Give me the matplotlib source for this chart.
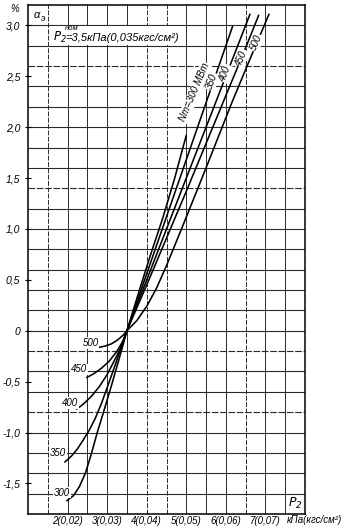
import matplotlib
matplotlib.use('Agg')
import matplotlib.pyplot as plt
from matplotlib.patches import Rectangle
import numpy as np

# ---------------- data ----------------
p_300 = [1.98, 2.15, 2.30, 2.45, 2.60, 2.75, 2.90, 3.10, 3.30, 3.50, 3.80, 4.10, 4.40, 4.70, 5.00]
a_300 = [-1.67, -1.62, -1.53, -1.40, -1.21, -1.00, -0.81, -0.55, -0.28, 0.0, 0.38, 0.75, 1.10, 1.49, 1.92]

p_350 = [1.93, 2.10, 2.25, 2.40, 2.55, 2.70, 2.85, 3.00, 3.20, 3.50, 4.00, 4.50, 5.00, 5.50, 6.17]
a_350 = [-1.29, -1.23, -1.16, -1.07, -0.975, -0.86, -0.72, -0.56, -0.34, 0.0, 0.56, 1.12, 1.68, 2.24, 2.99]

p_400 = [2.23, 2.40, 2.60, 2.80, 3.00, 3.20, 3.35, 3.50, 4.00, 4.50, 5.00, 5.50, 6.00, 6.61]
a_400 = [-0.77, -0.72, -0.645, -0.55, -0.43, -0.28, -0.16, 0.0, 0.50, 1.00, 1.50, 2.00, 2.50, 3.11]

p_450 = [2.48, 2.65, 2.85, 3.05, 3.25, 3.40, 3.50, 4.00, 4.50, 5.00, 5.50, 6.00, 6.50, 6.83]
a_450 = [-0.46, -0.425, -0.37, -0.30, -0.20, -0.10, 0.0, 0.45, 0.91, 1.37, 1.84, 2.31, 2.78, 3.10]

p_500 = [2.77, 2.95, 3.10, 3.25, 3.40, 3.50, 3.75, 4.00, 4.25, 4.50, 4.90, 5.50, 6.15, 6.60, 7.09]
a_500 = [-0.165, -0.15, -0.13, -0.095, -0.045, 0.0, 0.10, 0.24, 0.42, 0.64, 1.02, 1.60, 2.24, 2.66, 3.11]

curves_p = [p_300, p_350, p_400, p_450, p_500]
curves_a = [a_300, a_350, a_400, a_450, a_500]

upper_labels = ['Nт=300 МВт', '350', '400', '450', '500']
upper_label_pos = [(5.20, 2.34), (5.64, 2.45), (5.98, 2.53), (6.38, 2.68), (6.76, 2.83)]
upper_label_rot = [67, 70, 69, 67.5, 67]

lower_labels = ['300', '350', '400', '450', '500']
lower_label_pos = [(1.86, -1.59), (1.76, -1.20), (2.06, -0.71), (2.29, -0.38), (2.58, -0.12)]

ytick_vals = [-1.5, -1.0, -0.5, 0, 0.5, 1.0, 1.5, 2.0, 2.5, 3.0]
ytick_labels = ['-1,5', '-1,0', '-0,5', '0', '0,5', '1,0', '1,5', '2,0', '2,5', '3,0']
xtick_vals = [2, 3, 4, 5, 6, 7]
xtick_labels = ['2(0,02)', '3(0,03)', '4(0,04)', '5(0,05)', '6(0,06)', '7(0,07)']

header_text = '=3,5кПа(0,035кгс/см²)'
unit_text = 'кПа(кгс/см²)'

# ---------------- figure ----------------
plt.rcParams['font.family'] = ['Liberation Sans', 'DejaVu Sans']
plt.rcParams['font.style'] = 'italic'
plt.rcParams['mathtext.fontset'] = 'dejavusans'

W, H = 354, 530
fig = plt.figure(figsize=(W / 100, H / 100), dpi=100)
fig.patch.set_facecolor('white')
ax = fig.add_axes([28 / W, 16 / H, 277 / W, 509 / H])
ax.set_xlim(1, 8)
ax.set_ylim(-1.8, 3.2)


def px(x, y):
    return x / W, 1 - y / H


# grid
dashed_x = {1.5, 4.0, 4.5, 6.5}
for gx in np.arange(1.5, 8.0, 0.5):
    ls = (0, (5, 1.5)) if round(gx, 1) in dashed_x else '-'
    ax.axvline(gx, color='#2a2a2a', lw=0.7, ls=ls, zorder=1)
dashed_y = {2.6, 1.4, -0.2, -0.8}
for gy in np.arange(-1.6, 3.1, 0.2):
    ls = (0, (6, 1.5)) if round(gy, 1) in dashed_y else '-'
    ax.axhline(gy, color='#2a2a2a', lw=0.8, ls=ls, zorder=1)

# white area for header label
ax.add_patch(Rectangle((1.52, 2.81), 3.46, 0.18, facecolor='white', edgecolor='none', zorder=2))

for spine in ax.spines.values():
    spine.set_linewidth(1.1)
    spine.set_color('black')

# curves
for p, a in zip(curves_p, curves_a):
    ax.plot(p, a, color='black', lw=1.15, zorder=3, solid_capstyle='round')

bb = dict(facecolor='white', edgecolor='none', pad=0.6)
for lab, (lx, ly), rot in zip(upper_labels, upper_label_pos, upper_label_rot):
    ax.text(lx, ly, lab, rotation=rot, rotation_mode='anchor', ha='center', va='center',
            fontsize=7, bbox=bb, zorder=4)
for lab, (lx, ly) in zip(lower_labels, lower_label_pos):
    ax.text(lx, ly, lab, ha='center', va='center', fontsize=7, bbox=bb, zorder=4)

# ticks
ax.set_yticks(ytick_vals, ytick_labels)
ax.set_xticks(xtick_vals, xtick_labels)
ax.tick_params(axis='y', direction='inout', length=5, width=0.8, pad=3, labelsize=7.5)
ax.tick_params(axis='x', length=0, pad=1.5, labelsize=7)

# texts
fig.text(*px(15, 9), '%', fontsize=7, ha='center', va='center')
ax.text(1.22, 3.1, 'α', fontsize=8, ha='center', va='center', zorder=4)
ax.text(1.38, 3.07, 'э', fontsize=6.5, ha='center', va='center', zorder=4)
fig.text(*px(53, 37.5), r'$P_2$', fontsize=8.5, ha='left', va='center')
fig.text(*px(72, 28), 'ном', fontsize=5.5, ha='center', va='center')
fig.text(*px(65, 38), header_text, fontsize=8, ha='left', va='center')
fig.text(*px(314, 520), unit_text, fontsize=7, ha='center', va='center')
ax.text(7.75, -1.7, r'$P_2$', fontsize=9, ha='center', va='center', zorder=4)

fig.savefig('out.png', dpi=100, facecolor='white')
